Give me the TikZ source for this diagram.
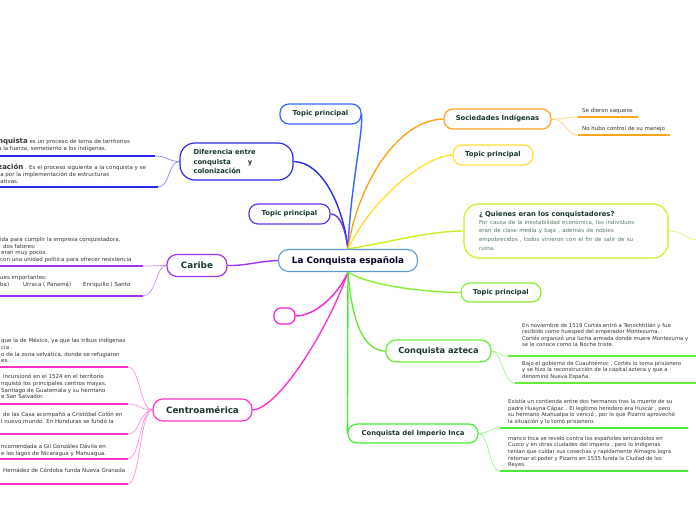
\documentclass[tikz,border=0pt]{standalone}
\usepackage{fontspec}
\setmainfont{DejaVu Sans}
\usetikzlibrary{backgrounds}
\definecolor{cblue}{HTML}{5B9BD5}
\definecolor{tblue}{HTML}{3366FF}
\definecolor{dblue}{HTML}{2929E6}
\definecolor{vblue}{HTML}{6633EE}
\definecolor{cpurple}{HTML}{A033EE}
\definecolor{pink}{HTML}{FF33CC}
\definecolor{magen}{HTML}{EE22DD}
\definecolor{orng}{HTML}{FFA31A}
\definecolor{yell}{HTML}{FFE135}
\definecolor{lime}{HTML}{CCEE22}
\definecolor{lgreen}{HTML}{88EE33}
\definecolor{green}{HTML}{66EE33}
\definecolor{igreen}{HTML}{44EE33}
\definecolor{titlecol}{HTML}{17372C}
\definecolor{leafcol}{HTML}{333333}
\definecolor{bodycol}{HTML}{557A5F}
\newcommand{\leaffont}{\fontsize{5.5}{6.7}\selectfont}
\tikzset{
  tbox/.style={draw=#1, line width=1.2pt, fill=white, rounded corners=9pt, inner sep=0pt,
    text=titlecol, font=\fontsize{6.8}{9.5}\selectfont\bfseries},
  bigbox/.style={tbox=#1, rounded corners=10pt, font=\fontsize{8.8}{10}\selectfont\bfseries},
  branch/.style={draw=#1, line width=1.4pt},
  leafline/.style={draw=#1, line width=2pt},
  leafconn/.style={draw=#1, line width=0.7pt},
  leaftext/.style={anchor=north west, inner sep=0pt, align=left, text=leafcol, font=\leaffont}
}
\begin{document}
\begin{tikzpicture}[x=1pt,y=-1pt]
\useasboundingbox (0,0) rectangle (696,520);

% ---------- main nodes ----------
\node[bigbox=cblue, line width=1.1pt, minimum width=139pt, minimum height=22pt, text=black!85!blue] (c) at (348,260.5) {La Conquista española};
\node[tbox=tblue, minimum width=81pt, minimum height=20pt] (t1) at (320.5,114) {Topic principal};
\node[tbox=dblue, minimum width=113pt, minimum height=37pt, rounded corners=15pt, align=left, text width=86pt, inner xsep=13.5pt] (d) at (236.5,161.5) {Diferencia entre\\conquista\hspace{17pt}y\\colonización};
\node[tbox=vblue, minimum width=81pt, minimum height=20pt] (t2) at (289.5,214) {Topic principal};
\node[bigbox=cpurple, minimum width=60pt, minimum height=22pt] (cb) at (197,265.5) {Caribe};
\node[tbox=magen, minimum width=21pt, minimum height=16pt, rounded corners=7pt] (s) at (284.5,316) {};
\node[bigbox=pink, minimum width=99pt, minimum height=22pt] (ca) at (202.5,410) {Centroamérica};
\node[tbox=orng, minimum width=107pt, minimum height=20pt] (so) at (497.5,119) {Sociedades Indígenas};
\node[tbox=yell, minimum width=80pt, minimum height=20pt] (ty) at (493,155) {Topic principal};
\node[tbox=lime, minimum width=204pt, minimum height=54pt, rounded corners=15pt, align=left, text width=174pt, inner xsep=15pt] (q) at (566,231)
  {¿ Quienes eran los conquistadores?\\[-1pt]
   {\fontsize{5.5}{8.5}\selectfont\mdseries\color{bodycol}Por causa de la inestabilidad económica, los individuos\\eran de clase media  y baja , además de nobles\\empobrecidos , todos vinieron con el fin de salir de su\\ruina.}};
\node[tbox=lgreen, minimum width=80pt, minimum height=19pt] (tg) at (501,292.5) {Topic principal};
\node[bigbox=green, font=\fontsize{8.3}{10}\selectfont\bfseries, minimum width=105pt, minimum height=22pt] (az) at (438.5,351) {Conquista azteca};
\node[tbox=igreen, minimum width=130pt, minimum height=19pt] (inca) at (413,433.5) {Conquista del Imperio Inca};

% ---------- leaf anchor coordinates ----------
\coordinate (dl1) at (155,156);  \coordinate (dl1e) at (-5,156);
\coordinate (dl2) at (158,187);  \coordinate (dl2e) at (-5,187);
\coordinate (cl1) at (143,266);  \coordinate (cl1e) at (-5,266);
\coordinate (cl2) at (143,296);  \coordinate (cl2e) at (-5,296);
\coordinate (al1) at (128,367);  \coordinate (al1e) at (-5,367);
\coordinate (al2) at (128,404);  \coordinate (al2e) at (-5,404);
\coordinate (al3) at (128,434);  \coordinate (al3e) at (-5,434);
\coordinate (al4) at (128,459);  \coordinate (al4e) at (-5,459);
\coordinate (al5) at (128,484);  \coordinate (al5e) at (-5,484);
\coordinate (sl1) at (578,117);  \coordinate (sl1e) at (638,117);
\coordinate (sl2) at (578,135);  \coordinate (sl2e) at (670,135);
\coordinate (zl1) at (508,356);  \coordinate (zl1e) at (700,356);
\coordinate (zl2) at (515,383);  \coordinate (zl2e) at (700,383);
\coordinate (il1) at (500,428);  \coordinate (il1e) at (688,428);
\coordinate (il2) at (500,471);  \coordinate (il2e) at (688,471);
\coordinate (qx) at (700,240);

% ---------- leaf texts ----------
\node[leaftext] (dt1) at (-2,138) {{\fontsize{7}{7}\selectfont\bfseries nquista}  es un proceso de toma de territorios\\a la fuerza, sometiento a los indígenas.};
\node[leaftext] (dt2) at (-2,164) {{\fontsize{7}{7}\selectfont\bfseries zación} . Es el proceso siguiente a la conquista y se\\ta por la implementación de estructuras\\rativas.};
\node[leaftext] (ct1) at (0,237) {ida para cumplir la empresa conquistadora.\\\hspace*{3pt}dos fatores:\\\hspace*{1pt}eran muy pocos.\\con una unidad política  para ofrecer resistencia};
\node[leaftext] (ct2) at (0,275) {ues importantes:\\ba)\hspace{14pt}Urraca  ( Panamá)\hspace{12pt}Enriquillo ( Santo};
\node[leaftext] (at1) at (1,338) {que la de México, ya que las tribus indígenas\\cia .\\o de la zona selvática, donde se refugiaron\\es.};
\node[leaftext] (at2) at (1,374) {\hspace*{2pt}incursionó en el 1524 en el territorio\\nquistó los principales centros mayas.\\Santiago de Guatemala y su hermano\\e San Salvador.};
\node[leaftext] (at3) at (1,412) {\hspace*{2pt}de las Casa acompañó a Cristóbal Colón en\\l nuevo mundo. En Honduras se fundó  la};
\node[leaftext] (at4) at (1,444) {ncomendada  a Gil Gonzáles Dávila  en\\e los lagos de Nicaragua y Manuagua.};
\node[leaftext] (at5) at (1,468) {\hspace*{2pt}Hernádez de Córdoba funda Nueva Granada};
\node[leaftext] (st1) at (582,108) {Se dieron saqueos};
\node[leaftext] (st2) at (582,126) {No hubo control de su manejo};
\node[leaftext, font=\fontsize{5.3}{6.4}\selectfont] (zt1) at (522,323) {En noviembre de 1519 Cortés entró a Tenochtitlán  y fue\\recibido como huésped del emperador Montezuma.\\Cortés organizó una lucha armada donde muere Montezuma y\\se le conoce como la Noche triste.};
\node[leaftext, font=\fontsize{5.3}{6.5}\selectfont] (zt2) at (522,361) {Bajo el gobierno de Cuauhtémoc  , Cortés lo toma prisionero\\y se hizo la reconstrucción de la capital azteca y que a\\denominó Nueva España.};
\node[leaftext, font=\fontsize{5.3}{6.6}\selectfont] (it1) at (508,399) {Existía un contienda entre dos hermanos tras la muerte de su\\padre Huayna Cápac . El legítimo heredero era Huscár , pero\\su hermano Atahualpa lo venció , por lo que Pizarro aprovechó\\la situación y  lo tomó prisionero.};
\node[leaftext, font=\fontsize{5.3}{6.55}\selectfont] (it2) at (508,436) {manco Inca  se reveló contra los españoles  sercandolos en\\Cuzco  y en otras ciudades del Imperio , pero lo indígenas\\tenían que cuidar sus cosechas y rapidamente Almagro logra\\retomar el poder y Pizarro  en 1535 funda la Ciudad de los\\Reyes.};

\begin{pgfonlayer}{background}
\fill[white] (0,0) rectangle (696,520);
% ---------- branches from centre ----------
\draw[branch=tblue] (c.north) .. controls (350,190) and (363,135) .. (t1.east);
\draw[branch=dblue] (c.north) .. controls (343,205) and (322,162) .. (d.east);
\draw[branch=vblue] (c.north) .. controls (345,228) and (340,214) .. (t2.east);
\draw[branch=cpurple] (c.west) .. controls (260,261) and (245,266) .. (cb.east);
\draw[branch=magen] (c.south) .. controls (338,295) and (315,316) .. (s.east);
\draw[branch=pink] (c.south) .. controls (330,325) and (280,408) .. (ca.east);
\draw[branch=orng] (c.north) .. controls (356,190) and (395,120) .. (so.west);
\draw[branch=yell] (c.north) .. controls (368,205) and (420,157) .. (ty.west);
\draw[branch=lime] (c.north) .. controls (390,242) and (430,231) .. (q.west);
\draw[branch=lgreen] (c.south) .. controls (368,285) and (420,292) .. (tg.west);
\draw[branch=green] (c.south) .. controls (352,325) and (365,351) .. (az.west);
\draw[branch=igreen] (c.south) -- (inca.west);

% ---------- leaf connectors ----------
\draw[leafconn=dblue!55] (d.west) .. controls (168,161.5) and (168,156) .. (dl1);
\draw[leafconn=dblue!55] (d.west) .. controls (168,161.5) and (170,187) .. (dl2);
\draw[leafconn=cpurple!55] (cb.west) .. controls (156,265.5) and (156,266) .. (cl1);
\draw[leafconn=cpurple!55] (cb.west) .. controls (156,265.5) and (156,296) .. (cl2);
\draw[leafconn=pink!55] (ca.west) .. controls (140,410) and (140,367) .. (al1);
\draw[leafconn=pink!55] (ca.west) .. controls (140,410) and (140,404) .. (al2);
\draw[leafconn=pink!55] (ca.west) .. controls (140,410) and (140,434) .. (al3);
\draw[leafconn=pink!55] (ca.west) .. controls (140,410) and (140,459) .. (al4);
\draw[leafconn=pink!55] (ca.west) .. controls (140,410) and (140,484) .. (al5);
\draw[leafconn=orng!55] (so.east) .. controls (566,119) and (566,117) .. (sl1);
\draw[leafconn=orng!55] (so.east) .. controls (566,119) and (566,135) .. (sl2);
\draw[leafconn=green!60] (az.east) .. controls (499,351) and (499,356) .. (zl1);
\draw[leafconn=green!60] (az.east) .. controls (502,351) and (503,383) .. (zl2);
\draw[leafconn=igreen!60] (inca.east) .. controls (489,433.5) and (489,428) .. (il1);
\draw[leafconn=igreen!60] (inca.east) .. controls (489,433.5) and (489,471) .. (il2);
\draw[leafconn=lime!70] (q.east) .. controls (684,231) and (684,240) .. (qx);
\end{pgfonlayer}

% ---------- leaf lines ----------
\draw[leafline=dblue] (dl1e) -- (dl1);
\draw[leafline=dblue] (dl2e) -- (dl2);
\draw[leafline=cpurple] (cl1e) -- (cl1);
\draw[leafline=cpurple] (cl2e) -- (cl2);
\draw[leafline=pink] (al1e) -- (al1);
\draw[leafline=pink] (al2e) -- (al2);
\draw[leafline=pink] (al3e) -- (al3);
\draw[leafline=pink] (al4e) -- (al4);
\draw[leafline=pink] (al5e) -- (al5);
\draw[leafline=orng] (sl1) -- (sl1e);
\draw[leafline=orng] (sl2) -- (sl2e);
\draw[leafline=green] (zl1) -- (zl1e);
\draw[leafline=green] (zl2) -- (zl2e);
\draw[leafline=igreen] (il1) -- (il1e);
\draw[leafline=igreen] (il2) -- (il2e);
\end{tikzpicture}
\end{document}
